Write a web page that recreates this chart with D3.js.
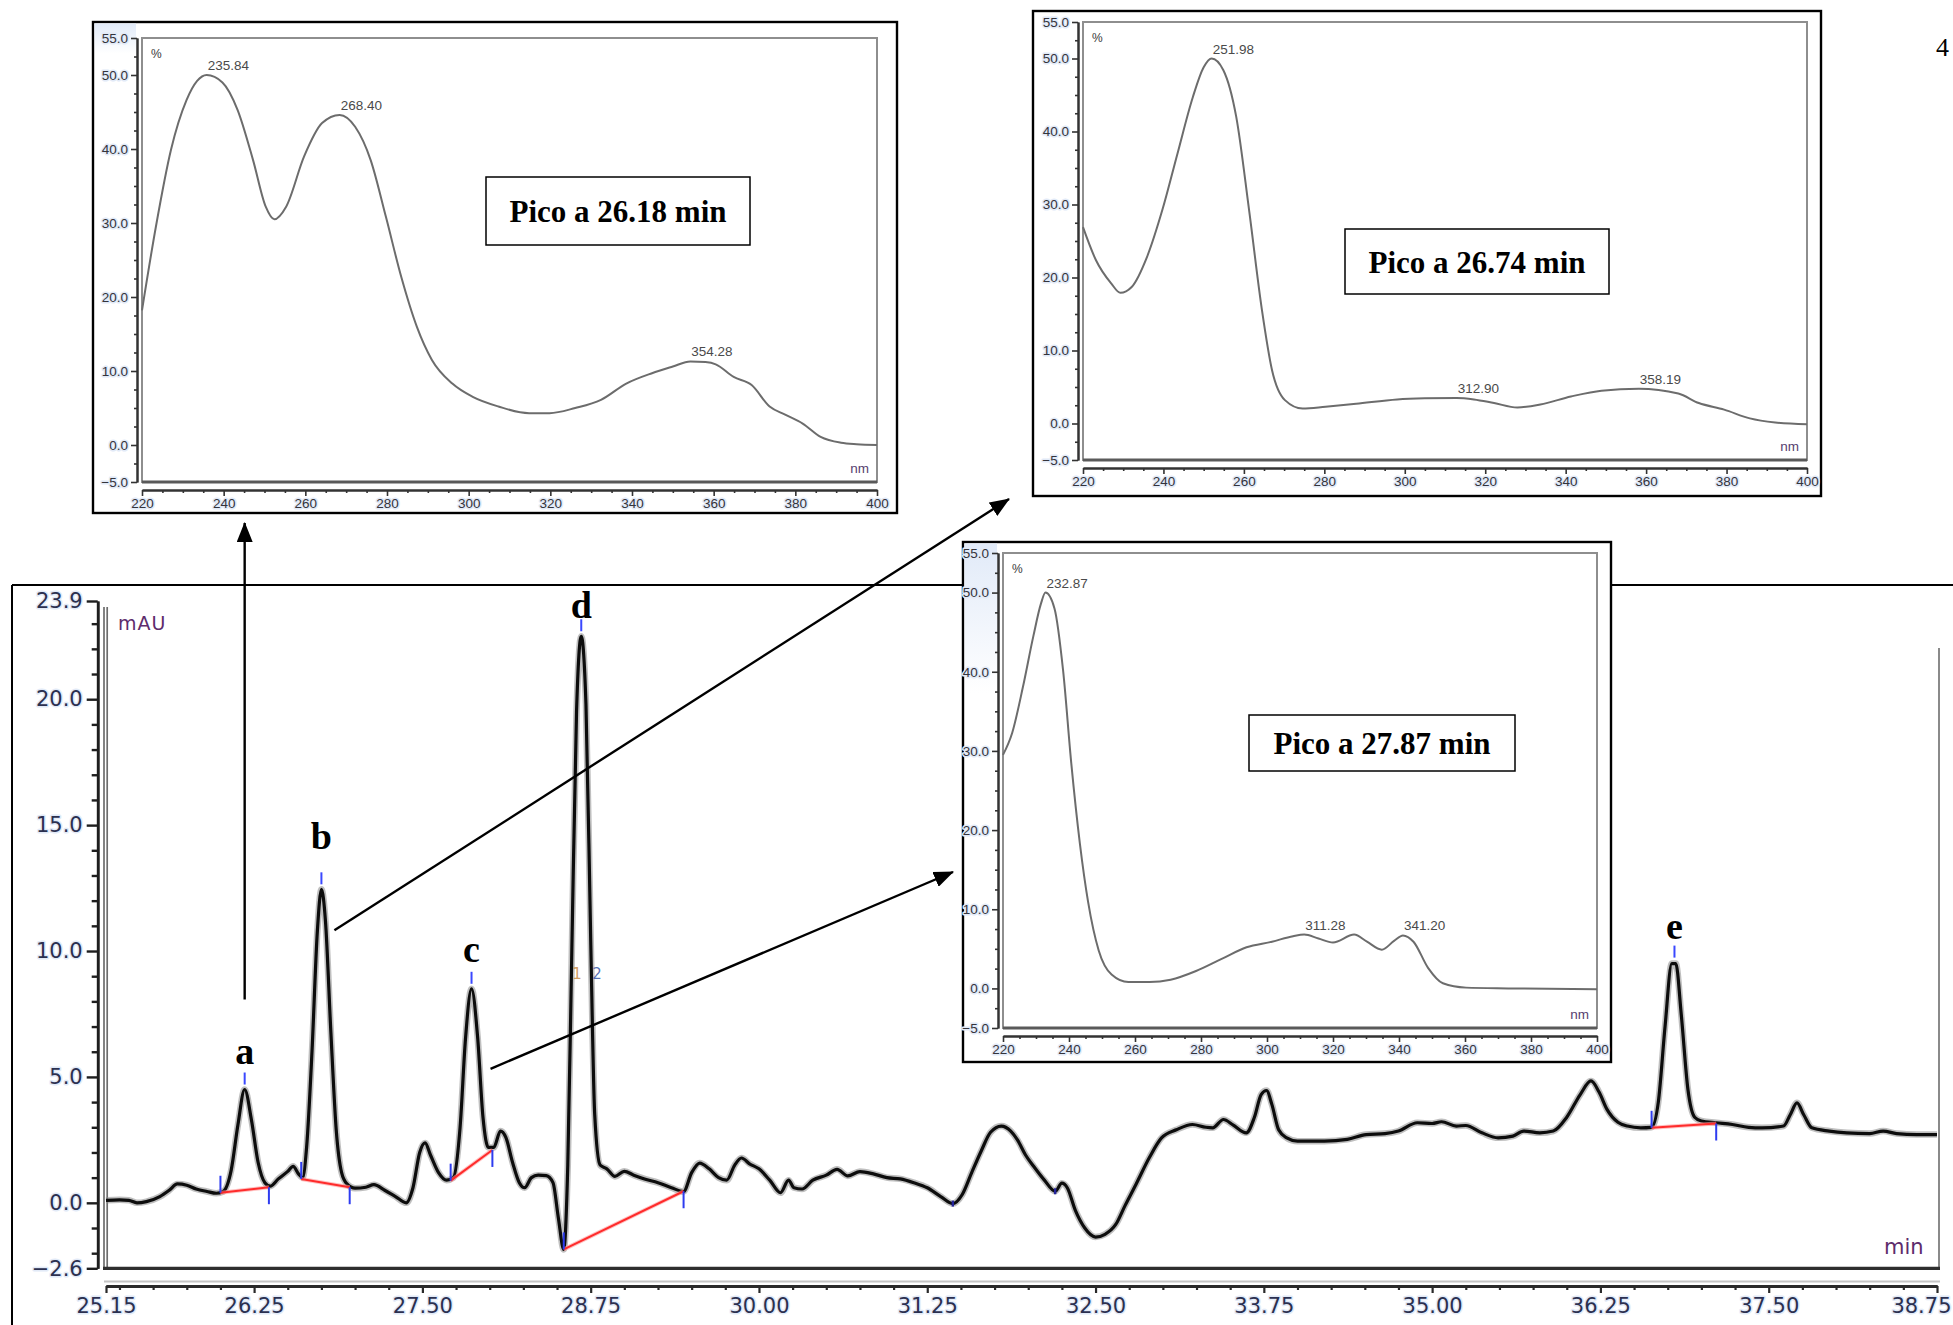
<!DOCTYPE html>
<html>
<head>
<meta charset="utf-8">
<script src="https://cdn.jsdelivr.net/npm/d3@7"></script>
<style>
  body { margin: 0; background: #fff; }
  svg { display: block; }
  .halo { paint-order: stroke; stroke: #e2eaf7; stroke-width: 3px; stroke-linejoin: round; }
</style>
</head>
<body>
<svg id="fig" width="1953" height="1325"></svg>
<script>
// ---------------- Chromatogram (retention time in min, absorbance in mAU) ----------------
const chromTime = [
  25.15, 25.25, 25.32, 25.38, 25.45, 25.55, 25.62, 25.68, 25.75, 25.82, 25.90, 25.97,
  26.02, 26.08, 26.13, 26.18, 26.23, 26.28, 26.33, 26.37, 26.43, 26.50, 26.54, 26.58,
  26.61, 26.64, 26.68, 26.72, 26.75, 26.78, 26.82, 26.86, 26.90, 26.94, 27.00, 27.08,
  27.14, 27.22, 27.30, 27.38, 27.43, 27.48, 27.52, 27.56, 27.62, 27.68, 27.73, 27.78,
  27.82, 27.865, 27.91, 27.95, 27.99, 28.03, 28.08, 28.12, 28.17, 28.22, 28.26, 28.31,
  28.36, 28.42, 28.47, 28.51, 28.55, 28.58, 28.61, 28.645, 28.68, 28.715, 28.75, 28.78,
  28.82, 28.87, 28.93, 29.00, 29.07, 29.15, 29.25, 29.35, 29.44, 29.50, 29.56, 29.63,
  29.70, 29.76, 29.82, 29.87, 29.93, 30.00, 30.08, 30.16, 30.22, 30.26, 30.32, 30.40,
  30.50, 30.58, 30.66, 30.75, 30.85, 30.95, 31.05, 31.15, 31.25, 31.35, 31.44, 31.51,
  31.58, 31.65, 31.72, 31.80, 31.87, 31.92, 31.98, 32.04, 32.12, 32.20, 32.25, 32.29,
  32.35, 32.42, 32.50, 32.57, 32.65, 32.72, 32.80, 32.90, 32.99, 33.10, 33.22, 33.32,
  33.37, 33.45, 33.52, 33.62, 33.68, 33.73, 33.77, 33.81, 33.86, 33.92, 34.00, 34.20,
  34.37, 34.51, 34.65, 34.75, 34.89, 35.00, 35.07, 35.18, 35.25, 35.37, 35.49, 35.60,
  35.68, 35.80, 35.90, 36.00, 36.10, 36.18, 36.24, 36.30, 36.38, 36.45, 36.55, 36.63,
  36.68, 36.73, 36.78, 36.81, 36.85, 36.90, 36.95, 37.00, 37.11, 37.23, 37.35, 37.45,
  37.61, 37.66, 37.71, 37.76, 37.82, 37.95, 38.08, 38.25, 38.35, 38.45, 38.60, 38.75
];
const chromMAU = [
  0.10, 0.12, 0.10, 0.00, 0.05, 0.25, 0.50, 0.75, 0.70, 0.55, 0.45, 0.38,
  0.45, 1.30, 3.10, 4.50, 3.30, 1.60, 0.80, 0.66, 0.95, 1.25, 1.45, 1.15,
  1.00, 2.20, 6.00, 10.80, 12.45, 11.20, 6.80, 2.90, 1.20, 0.75, 0.58, 0.62,
  0.72, 0.50, 0.25, 0.00, 0.60, 2.00, 2.38, 1.90, 1.20, 0.90, 1.00, 3.00,
  6.50, 8.50, 6.60, 3.40, 2.20, 2.20, 2.85, 2.60, 1.60, 0.80, 0.60, 1.00,
  1.10, 1.08, 0.80, -0.60, -1.85, 1.50, 10.00, 19.50, 22.50, 19.80, 10.50, 3.50,
  1.50, 1.35, 1.05, 1.25, 1.10, 0.95, 0.80, 0.60, 0.45, 1.20, 1.58, 1.35,
  1.00, 0.90, 1.50, 1.78, 1.55, 1.35, 0.90, 0.40, 0.90, 0.60, 0.55, 0.90,
  1.10, 1.33, 1.07, 1.24, 1.15, 1.00, 0.95, 0.80, 0.60, 0.25, -0.03, 0.33,
  1.20, 2.05, 2.80, 3.05, 2.85, 2.50, 1.90, 1.45, 0.90, 0.46, 0.78, 0.60,
  -0.30, -1.00, -1.36, -1.25, -0.86, -0.10, 0.73, 1.80, 2.58, 2.90, 3.11, 3.00,
  2.98, 3.31, 3.10, 2.78, 3.40, 4.30, 4.46, 3.90, 2.90, 2.58, 2.45, 2.45,
  2.52, 2.71, 2.75, 2.85, 3.18, 3.15, 3.22, 3.05, 3.07, 2.78, 2.58, 2.65,
  2.85, 2.78, 2.85, 3.40, 4.30, 4.84, 4.40, 3.70, 3.20, 3.05, 2.98, 3.00,
  4.00, 7.00, 9.50, 9.50, 7.50, 4.50, 3.40, 3.25, 3.18, 3.11, 3.00, 2.98,
  3.05, 3.50, 3.97, 3.50, 2.98, 2.85, 2.78, 2.75, 2.85, 2.75, 2.71, 2.71
];

// Labelled peaks
const peakLetters = ["a", "b", "c", "d", "e"];
const peakTimes   = [26.18, 26.75, 27.865, 28.68, 36.80];
const peakHeights = [4.50, 12.45, 8.50, 22.50, 9.54];

// Integration baselines: start and end points (min, mAU)
const baseStartTime = [26.00, 26.60, 27.71, 28.55, 36.63];
const baseStartMAU  = [0.40, 0.95, 0.88, -1.85, 2.98];
const baseEndTime   = [26.36, 26.96, 28.02, 29.44, 37.11];
const baseEndMAU    = [0.62, 0.62, 2.10, 0.46, 3.15];

// Unlabelled baseline markers
const markerTimes = [31.44, 32.20];
const markerMAU   = [-0.03, 0.46];

// Axis ticks of the chromatogram
const chromYTicks = [23.9, 20.0, 15.0, 10.0, 5.0, 0.0, -2.6];
const chromXTicks = [25.15, 26.25, 27.50, 28.75, 30.00, 31.25, 32.50, 33.75, 35.00, 36.25, 37.50, 38.75];

// ---------------- UV spectra (wavelength in nm, relative absorbance in %) ----------------
const spec1Nm = [220, 223.4, 227.1, 230.9, 233.5, 235.84, 239.7, 243.4, 247.2, 250.3, 252.4, 255.3,
  259.7, 264.1, 268.4, 272.2, 276.0, 279.7, 283.5, 287.3, 291.0, 296.0, 301.0, 307.3, 314.8,
  319.8, 326.1, 332.4, 338.6, 344.9, 350.0, 354.28, 358.0, 360.5, 364.9, 369.3, 373.7, 377.5,
  381.8, 386.2, 391.2, 395.0, 400];
const spec1Pct = [18.2, 29.5, 39.9, 46.6, 49.2, 50.0, 49.0, 45.3, 38.5, 32.2, 30.5, 32.2,
  39.0, 43.5, 44.6, 43.0, 38.5, 30.9, 22.7, 16.0, 11.5, 8.3, 6.5, 5.2, 4.3,
  4.3, 5.0, 6.1, 8.3, 9.7, 10.6, 11.3, 11.2, 10.9, 9.2, 8.1, 5.2, 4.1,
  2.9, 1.1, 0.3, 0.1, 0.0];
const spec1PeakNm  = [235.84, 268.40, 354.28];
const spec1PeakPct = [50.0, 44.6, 11.3];

const spec2Nm = [220, 223.2, 227.0, 229.3, 232.1, 235.9, 239.7, 243.5, 247.3, 250.0, 251.98, 254.9,
  258.1, 261.3, 264.5, 267.0, 270.2, 274.6, 280.3, 287.9, 298.1, 305.0, 312.9, 317.2, 322.2,
  328.0, 333.7, 341.3, 348.9, 358.19, 368.0, 373.1, 379.4, 385.8, 392.1, 400];
const spec2Pct = [26.9, 22.4, 19.2, 17.9, 18.7, 22.8, 29.2, 37.0, 44.7, 48.8, 50.0, 48.4,
  42.0, 29.2, 15.5, 7.3, 3.2, 2.05, 2.3, 2.7, 3.3, 3.45, 3.5, 3.3, 2.8,
  2.2, 2.6, 3.7, 4.5, 4.75, 4.1, 2.8, 1.9, 0.7, 0.14, -0.1];
const spec2PeakNm  = [251.98, 312.90, 358.19];
const spec2PeakPct = [50.0, 3.5, 4.75];

const spec3Nm = [220, 222.8, 226.0, 229.2, 231.5, 232.87, 235.6, 238.2, 240.7, 243.3, 245.8, 249.0,
  252.9, 258.0, 264.4, 270.8, 278.5, 286.1, 293.8, 301.5, 307.9, 311.28, 315.6, 320.0, 326.4,
  330.3, 334.8, 338.5, 341.2, 344.4, 348.8, 353.3, 360.3, 373.1, 400];
const spec3Pct = [29.5, 32.3, 38.0, 44.5, 48.6, 50.0, 48.0, 40.2, 28.4, 18.3, 10.9, 4.8,
  1.75, 0.8, 0.8, 1.1, 2.2, 3.7, 5.2, 5.9, 6.6, 6.8, 6.3, 5.8, 6.8,
  5.9, 4.9, 6.0, 6.7, 5.9, 2.6, 0.65, 0.1, 0.0, -0.1];
const spec3PeakNm  = [232.87, 311.28, 341.20];
const spec3PeakPct = [50.0, 6.8, 6.7];

const specYTicks = [55, 50, 40, 30, 20, 10, 0, -5];
const specXTicks = [220, 240, 260, 280, 300, 320, 340, 360, 380, 400];
const specTitles = ["Pico a 26.18 min", "Pico a 26.74 min", "Pico a 27.87 min"];

// ---------------- Drawing ----------------
const W = 1953;
const svg = d3.select("#fig");
const defs = svg.append("defs");

defs.append("marker")
  .attr("id", "arrowHead")
  .attr("viewBox", "0 0 20 16")
  .attr("refX", 19).attr("refY", 8)
  .attr("markerWidth", 20).attr("markerHeight", 16)
  .attr("markerUnits", "userSpaceOnUse")
  .attr("orient", "auto")
  .append("path").attr("d", "M0,0 L20,8 L0,16 Z").attr("fill", "#000");

const band = defs.append("linearGradient").attr("id", "labelBand")
  .attr("x1", 0).attr("x2", 0).attr("y1", 0).attr("y2", 1);
band.append("stop").attr("offset", "0%").attr("stop-color", "#e1eaf8").attr("stop-opacity", 1);
band.append("stop").attr("offset", "100%").attr("stop-color", "#e1eaf8").attr("stop-opacity", 0);

// Main chromatogram scales
const xMain = d3.scaleLinear().domain([25.15, 38.75]).range([106, 1937]);
const yMain = d3.scaleLinear().domain([-2.6, 23.9]).range([1268.3, 601]);

// Outer frame of the chromatogram figure
const frame = svg.append("g");
frame.append("line").attr("x1", 12).attr("x2", W).attr("y1", 585).attr("y2", 585)
  .attr("stroke", "#000").attr("stroke-width", 2);
frame.append("line").attr("x1", 12).attr("x2", 12).attr("y1", 585).attr("y2", 1325)
  .attr("stroke", "#000").attr("stroke-width", 2);

// Plot borders
const plotG = svg.append("g");
[104, 107.2].forEach(xx => plotG.append("line")
  .attr("x1", xx).attr("x2", xx).attr("y1", 607).attr("y2", 1268)
  .attr("stroke", "#6d6d6d").attr("stroke-width", 1.7));
plotG.append("line").attr("x1", 1939).attr("x2", 1939).attr("y1", 648).attr("y2", 1268)
  .attr("stroke", "#8a8a8a").attr("stroke-width", 2);
plotG.append("line").attr("x1", 103).attr("x2", 1940).attr("y1", 1268.3).attr("y2", 1268.3)
  .attr("stroke", "#2e2e2e").attr("stroke-width", 3.2);

// Y axis (mAU)
const yAxisMajor = d3.axisLeft(yMain).tickValues(chromYTicks)
  .tickFormat(d3.format(".1f")).tickSize(11).tickSizeOuter(0).tickPadding(4);
const yMinorVals = d3.range(-2, 24).filter(v => v % 5 !== 0);
const yAxisMinor = d3.axisLeft(yMain).tickValues(yMinorVals).tickFormat("").tickSize(6).tickSizeOuter(0);
const gy = svg.append("g").attr("transform", "translate(97.7,0)");
gy.call(yAxisMajor);
gy.append("g").call(yAxisMinor);
gy.selectAll("path.domain").attr("stroke", "#1e1e1e").attr("stroke-width", 2.6);
gy.selectAll(".tick line").attr("stroke", "#1e1e1e").attr("stroke-width", 2.4);
gy.selectAll(".tick text")
  .attr("class", "halo")
  .attr("fill", "#2b3050")
  .style("font-family", "'DejaVu Sans', sans-serif")
  .style("font-size", "21px");

// X axis ruler (min)
svg.append("line").attr("x1", 104).attr("x2", 1940).attr("y1", 1281.5).attr("y2", 1281.5)
  .attr("stroke", "#c4c4c4").attr("stroke-width", 2);
const xAxisMajor = d3.axisBottom(xMain).tickValues(chromXTicks)
  .tickFormat(d3.format(".2f")).tickSize(7).tickSizeOuter(0).tickPadding(5);
const xMinorVals = d3.range(101, 156).map(k => k * 0.25)
  .filter(v => v > 25.15 && v < 38.75 && !chromXTicks.some(t => Math.abs(t - v) < 1e-6));
const xAxisMinor = d3.axisBottom(xMain).tickValues(xMinorVals).tickFormat("").tickSize(4).tickSizeOuter(0);
const gx = svg.append("g").attr("transform", "translate(0,1286)");
gx.call(xAxisMajor);
gx.append("g").call(xAxisMinor);
gx.selectAll("path.domain").attr("stroke", "#2a2a2a").attr("stroke-width", 3);
gx.selectAll(".tick line").attr("stroke", "#2a2a2a").attr("stroke-width", 2.2);
gx.selectAll(".tick text")
  .attr("class", "halo")
  .attr("fill", "#2b3050")
  .style("font-family", "'DejaVu Sans', sans-serif")
  .style("font-size", "21px");
// keep the last tick label inside the page edge
gx.selectAll(".tick text").filter(d => d === chromXTicks[chromXTicks.length - 1])
  .attr("text-anchor", "end").attr("x", W - 2 - xMain(chromXTicks[chromXTicks.length - 1]));

// Unit labels
svg.append("text").attr("x", 118).attr("y", 630).text("mAU")
  .attr("fill", "#5e2c6c").style("font-family", "'DejaVu Sans', sans-serif")
  .style("font-size", "19px").style("letter-spacing", "1px");
svg.append("text").attr("x", 1884).attr("y", 1254).text("min")
  .attr("fill", "#5e2c6c").style("font-family", "'DejaVu Sans', sans-serif")
  .style("font-size", "21px");

// Trace
const chromPts = chromTime.map((t, i) => [t, chromMAU[i]]);
const chromLine = d3.line().x(d => xMain(d[0])).y(d => yMain(d[1])).curve(d3.curveMonotoneX);
svg.append("path").datum(chromPts).attr("d", chromLine)
  .attr("fill", "none").attr("stroke", "#8a8a8a").attr("stroke-opacity", 0.55)
  .attr("stroke-width", 6.5).attr("stroke-linejoin", "round");
svg.append("path").datum(chromPts).attr("d", chromLine)
  .attr("fill", "none").attr("stroke", "#0d0d0d")
  .attr("stroke-width", 3.2).attr("stroke-linejoin", "round");

// Integration baselines
const baseG = svg.append("g");
baseStartTime.forEach((t, i) => {
  const x1 = xMain(t), y1 = yMain(baseStartMAU[i]);
  const x2 = xMain(baseEndTime[i]), y2 = yMain(baseEndMAU[i]);
  baseG.append("line").attr("x1", x1).attr("y1", y1).attr("x2", x2).attr("y2", y2)
    .attr("stroke", "#ff9a9a").attr("stroke-opacity", 0.6).attr("stroke-width", 4);
  baseG.append("line").attr("x1", x1).attr("y1", y1).attr("x2", x2).attr("y2", y2)
    .attr("stroke", "#ff2b2b").attr("stroke-width", 2);
  // start marker points up, end marker points down
  baseG.append("line").attr("x1", x1).attr("x2", x1).attr("y1", y1).attr("y2", y1 - 17)
    .attr("stroke", "#2e3cf0").attr("stroke-width", 2);
  baseG.append("line").attr("x1", x2).attr("x2", x2).attr("y1", y2).attr("y2", y2 + 17)
    .attr("stroke", "#2e3cf0").attr("stroke-width", 2);
});
markerTimes.forEach((t, i) => {
  baseG.append("line").attr("x1", xMain(t)).attr("x2", xMain(t))
    .attr("y1", yMain(markerMAU[i]) - 3).attr("y2", yMain(markerMAU[i]) + 3)
    .attr("stroke", "#23239a").attr("stroke-width", 2.4);
});

// Apex markers and peak letters
const letterLift = [26, 40, 27, 18, 24];
peakTimes.forEach((t, i) => {
  const px = xMain(t), py = yMain(peakHeights[i]);
  svg.append("line").attr("x1", px).attr("x2", px).attr("y1", py - 5).attr("y2", py - 17)
    .attr("stroke", "#3a48ff").attr("stroke-width", 2);
  svg.append("text").attr("x", px).attr("y", py - letterLift[i])
    .attr("text-anchor", "middle").text(peakLetters[i])
    .style("font-family", "'Liberation Serif', 'Times New Roman', serif")
    .style("font-weight", "bold").style("font-size", "38px").attr("fill", "#000");
});

// Faint peak number fragments beside peak d
svg.append("text").attr("x", xMain(peakTimes[3]) - 9).attr("y", 979).text("1")
  .attr("fill", "#c8863a").attr("fill-opacity", 0.8)
  .style("font-family", "'DejaVu Sans', sans-serif").style("font-size", "15px");
svg.append("text").attr("x", xMain(peakTimes[3]) + 11).attr("y", 979).text("2")
  .attr("fill", "#3c5aa8").attr("fill-opacity", 0.85)
  .style("font-family", "'DejaVu Sans', sans-serif").style("font-size", "15px");

// ---------------- Spectrum insets ----------------
const insetLayouts = [
  { box: { x0: 93, y0: 22, x1: 897, y1: 513 }, plot: { x0: 142, y0: 38, x1: 877, y1: 482 },
    title: { x0: 486, y0: 177, x1: 750, y1: 245 }, band: 30 },
  { box: { x0: 1033, y0: 11, x1: 1821, y1: 496 }, plot: { x0: 1083, y0: 22, x1: 1807, y1: 460 },
    title: { x0: 1345, y0: 229, x1: 1609, y1: 294 }, band: 0 },
  { box: { x0: 963, y0: 542, x1: 1611, y1: 1062 }, plot: { x0: 1003, y0: 553, x1: 1597, y1: 1028 },
    title: { x0: 1249, y0: 715, x1: 1515, y1: 771 }, band: 150 }
];
const spectra = [
  { nm: spec1Nm, pct: spec1Pct, pkNm: spec1PeakNm, pkPct: spec1PeakPct },
  { nm: spec2Nm, pct: spec2Pct, pkNm: spec2PeakNm, pkPct: spec2PeakPct },
  { nm: spec3Nm, pct: spec3Pct, pkNm: spec3PeakNm, pkPct: spec3PeakPct }
];

function drawInset(layout, spec, title) {
  const { box, plot } = layout;
  const g = svg.append("g");
  g.append("rect").attr("x", box.x0).attr("y", box.y0)
    .attr("width", box.x1 - box.x0).attr("height", box.y1 - box.y0)
    .attr("fill", "#fff").attr("stroke", "#000").attr("stroke-width", 2.4);
  if (layout.band > 0) {
    g.append("rect").attr("x", box.x0 + 1.5).attr("y", box.y0 + 1.5)
      .attr("width", plot.x0 - 6 - box.x0 - 1.5).attr("height", layout.band)
      .attr("fill", "url(#labelBand)");
  }

  const x = d3.scaleLinear().domain([220, 400]).range([plot.x0, plot.x1]);
  const y = d3.scaleLinear().domain([-5, 55]).range([plot.y1, plot.y0]);

  // plot frame
  g.append("rect").attr("x", plot.x0).attr("y", plot.y0)
    .attr("width", plot.x1 - plot.x0).attr("height", plot.y1 - plot.y0)
    .attr("fill", "none").attr("stroke", "#8e8e8e").attr("stroke-width", 2);
  g.append("line").attr("x1", plot.x0).attr("x2", plot.x1).attr("y1", plot.y1).attr("y2", plot.y1)
    .attr("stroke", "#5a5a5a").attr("stroke-width", 3);

  // y axis
  const yMinor = d3.range(-1, 22).map(k => k * 2.5).filter(v => v % 10 !== 0 && v !== 55 && v !== -5);
  const gy2 = g.append("g").attr("transform", `translate(${plot.x0 - 5},0)`);
  gy2.call(d3.axisLeft(y).tickValues(specYTicks).tickFormat(d3.format(".1f"))
    .tickSize(6).tickSizeOuter(0).tickPadding(3));
  gy2.append("g").call(d3.axisLeft(y).tickValues(yMinor).tickFormat("").tickSize(3).tickSizeOuter(0));
  gy2.selectAll("path.domain").attr("stroke", "#333").attr("stroke-width", 2);
  gy2.selectAll(".tick line").attr("stroke", "#333").attr("stroke-width", 1.6);
  gy2.selectAll(".tick text").attr("class", "halo").attr("fill", "#34343c")
    .style("font-family", "'Liberation Sans', Arial, sans-serif").style("font-size", "13.5px");

  // x ruler
  const xMinor = d3.range(220, 401, 5).filter(v => v % 20 !== 0);
  const gx2 = g.append("g").attr("transform", `translate(0,${plot.y1 + 8})`);
  gx2.call(d3.axisBottom(x).tickValues(specXTicks).tickFormat(d3.format("d"))
    .tickSize(6).tickSizeOuter(0).tickPadding(2));
  gx2.append("g").call(d3.axisBottom(x).tickValues(xMinor).tickFormat("").tickSize(3).tickSizeOuter(0));
  gx2.selectAll("path.domain").attr("stroke", "#333").attr("stroke-width", 2);
  gx2.selectAll(".tick line").attr("stroke", "#333").attr("stroke-width", 1.6);
  gx2.selectAll(".tick text").attr("class", "halo").attr("fill", "#34343c")
    .style("font-family", "'Liberation Sans', Arial, sans-serif").style("font-size", "13.5px");

  // units
  g.append("text").attr("x", plot.x0 + 9).attr("y", plot.y0 + 20).text("%")
    .attr("fill", "#3a3a3a").style("font-family", "'Liberation Sans', Arial, sans-serif")
    .style("font-size", "12px");
  g.append("text").attr("x", plot.x1 - 8).attr("y", plot.y1 - 9).attr("text-anchor", "end").text("nm")
    .attr("fill", "#56406e").style("font-family", "'Liberation Sans', Arial, sans-serif")
    .style("font-size", "13.5px");

  // spectrum curve
  const pts = spec.nm.map((v, i) => [v, spec.pct[i]]);
  g.append("path").datum(pts)
    .attr("d", d3.line().x(d => x(d[0])).y(d => y(d[1])).curve(d3.curveMonotoneX))
    .attr("fill", "none").attr("stroke", "#6c6c6c").attr("stroke-width", 2);

  // peak wavelength labels
  spec.pkNm.forEach((v, i) => {
    g.append("text").attr("x", x(v) + 1).attr("y", y(spec.pkPct[i]) - 5)
      .text(d3.format(".2f")(v))
      .attr("fill", "#4a4a4a").style("font-family", "'Liberation Sans', Arial, sans-serif")
      .style("font-size", "13.5px");
  });

  // title box
  const t = layout.title;
  g.append("rect").attr("x", t.x0).attr("y", t.y0).attr("width", t.x1 - t.x0).attr("height", t.y1 - t.y0)
    .attr("fill", "#fff").attr("stroke", "#000").attr("stroke-width", 1.5);
  g.append("text").attr("x", (t.x0 + t.x1) / 2).attr("y", (t.y0 + t.y1) / 2 + 11)
    .attr("text-anchor", "middle").text(title)
    .style("font-family", "'Liberation Serif', 'Times New Roman', serif")
    .style("font-weight", "bold").style("font-size", "31px").attr("fill", "#000");
  return g;
}

insetLayouts.forEach((L, i) => drawInset(L, spectra[i], specTitles[i]));

// ---------------- Arrows linking peaks to their spectra ----------------
const arrows = svg.append("g");
const L1 = insetLayouts[0], L2 = insetLayouts[1], L3 = insetLayouts[2];
const aX = xMain(peakTimes[0]);
arrows.append("line")
  .attr("x1", aX).attr("y1", yMain(peakHeights[0]) - 90)
  .attr("x2", aX).attr("y2", L1.box.y1 + 10)
  .attr("stroke", "#000").attr("stroke-width", 2.4).attr("marker-end", "url(#arrowHead)");
arrows.append("line")
  .attr("x1", xMain(peakTimes[1]) + 13).attr("y1", yMain(peakHeights[1]) + 41)
  .attr("x2", L2.box.x0 - 24).attr("y2", L2.box.y1 + 3)
  .attr("stroke", "#000").attr("stroke-width", 2.4).attr("marker-end", "url(#arrowHead)");
arrows.append("line")
  .attr("x1", xMain(peakTimes[2]) + 19).attr("y1", yMain(peakHeights[2]) + 80)
  .attr("x2", L3.box.x0 - 10).attr("y2", 872)
  .attr("stroke", "#000").attr("stroke-width", 2.4).attr("marker-end", "url(#arrowHead)");

// Page number at the top-right corner
svg.append("text").attr("x", W - 4).attr("y", 56).attr("text-anchor", "end").text("4")
  .style("font-family", "'Liberation Serif', serif").style("font-size", "26px").attr("fill", "#000");
</script>
</body>
</html>
